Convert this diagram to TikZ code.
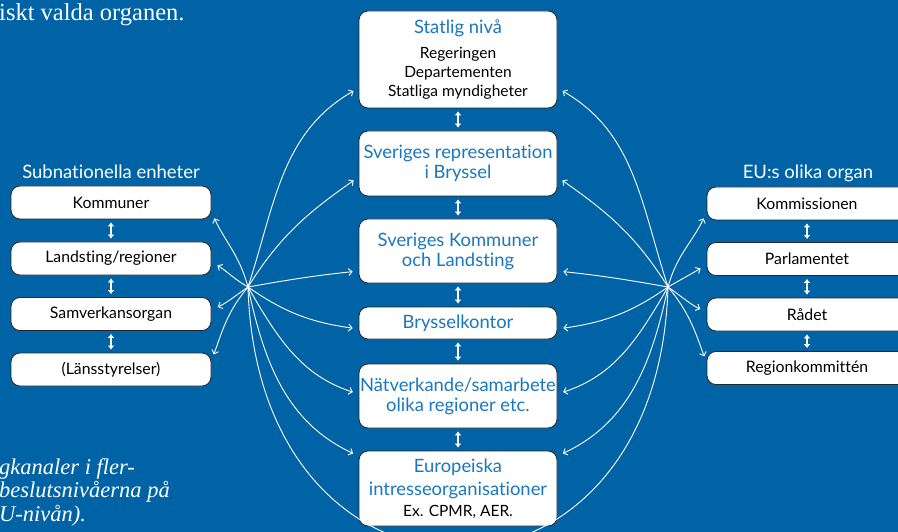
\documentclass[tikz,border=0pt]{standalone}
\usepackage{fontspec}
\setmainfont{Liberation Serif}
\newfontfamily\boxfont[Ligatures=NoCommon]{Lato}
\usetikzlibrary{arrows.meta}
\definecolor{bgblue}{HTML}{0063A6}
\definecolor{txtblue}{HTML}{1B78BE}
\newcommand\sub[1]{{\fontsize{15.5}{19}\selectfont\color{black}#1}}
\tikzset{
  box/.style={draw=black!85, fill=white, rounded corners=9pt, line width=.8pt,
    align=center, inner sep=0pt, text=txtblue, minimum width=198pt,
    font=\boxfont\fontsize{18.4}{20}\selectfont},
  sidebox/.style={box, text=black, minimum width=200pt, minimum height=33pt,
    font=\boxfont\fontsize{15.8}{18}\selectfont},
  label/.style={text=white, font=\boxfont\fontsize{18.5}{21}\selectfont},
  link/.style={white, line width=.9pt, line cap=round},
  con/.style={link, -{Straight Barb[length=3.5pt,width=7pt]}},
  dbl/.style={white, line width=1.6pt, {Latex[length=4pt,width=7pt]}-{Latex[length=4pt,width=7pt]},
    shorten <=3pt, shorten >=3pt},
}
\begin{document}
\begin{tikzpicture}[x=1pt, y=1pt]
	\clip (0,0) rectangle (898,-532);
	\fill[bgblue] (0,0) rectangle (898,-532);
	\path
	(248,-287) coordinate (L)
	(668,-287) coordinate (R)
	;
	% middle column
	\node[box, minimum height=97pt, font=\boxfont\fontsize{18.4}{19}\selectfont] (c1) at (458,-59.5) {Statlig nivå\\[6pt] \sub{Regeringen}\\ \sub{Departementen}\\ \sub{Statliga myndigheter}};
	\node[box, minimum height=65pt] (c2) at (458,-163.5) {Sveriges representation\\ i Bryssel};
	\node[box, minimum height=64pt] (c3) at (458,-251) {Sveriges Kommuner\\ och Landsting};
	\node[box, minimum height=32pt] (c4) at (458,-323) {Brysselkontor};
	\node[box, minimum height=64pt] (c5) at (458,-396) {Nätverkande/samarbete\\ olika regioner etc.};
	\node[box, minimum height=75pt] (c6) at (458,-488.5) {Europeiska\\[3pt] intresseorganisationer\\[1pt] \sub{Ex. CPMR, AER.}};
	% left and right columns
	\node[label] (lt) at (111,-172) {Subnationella enheter};
	\node[sidebox] (l1) at (111,-202.5) {Kommuner};
	\node[sidebox] (l2) at (111,-258.5) {Landsting/regioner};
	\node[sidebox] (l3) at (111,-314) {Samverkansorgan};
	\node[sidebox] (l4) at (111,-369.5) {(Länsstyrelser)};
	\node[label] (rt) at (808,-173) {EU:s olika organ};
	\node[sidebox] (r1) at (807,-203.5) {Kommissionen};
	\node[sidebox] (r2) at (807,-259) {Parlamentet};
	\node[sidebox] (r3) at (807,-314.5) {Rådet};
	\node[sidebox] (r4) at (807,-368) {Regionkommittén};
	% texts cut by the frame
	\node[anchor=base west, inner sep=0pt, text=white, font=\fontsize{24.5}{28}\selectfont] (top) at (-1,-21) {iskt valda organen.};
	\node[anchor=north west, inner sep=0pt, align=left, text=white, font=\itshape\fontsize{22.5}{23.5}\selectfont] (bot) at (-1,-458) {gkanaler i fler-\\ beslutsnivåerna på\\ U-nivån).};
	% double arrows
	\foreach \a/\b in {c1/c2, c2/c3, c3/c4, c4/c5, c5/c6, l1/l2, l2/l3, l3/l4, r1/r2, r2/r3, r3/r4}
	\draw[dbl] (\a) -- (\b);
	% curves to the middle column
	\foreach \n/\d/\o/\i in {c1/-28.5/72/210, c2/-13.5/58/215, c3/-20/10/186, c4/-6/-35/172, c5/2/-60/162, c6/32.5/-78/155}
	{
	\pgfmathsetmacro\oo{180-\o}
	\pgfmathsetmacro\ii{180-\i}
	\draw[con, shorten >=6pt] (L) to[out=\o, in=\i] ([yshift=\d]\n.west);
	\draw[con, shorten >=6pt] (R) to[out=\oo, in=\ii] ([yshift=\d]\n.east);
	}
	% curves to the side columns
	\foreach \n/\d/\o/\i in {l1/-9.5/105/-65, l2/-3.5/150/-30, l3/4/215/25, l4/8.5/230/70}
	\draw[con, shorten >=7pt] (L) to[out=\o, in=\i] ([yshift=\d]\n.east);
	\foreach \n/\d/\o/\i in {r1/-8.5/75/245, r2/-6/30/210, r3/2.5/-35/155, r4/5/-50/110}
	\draw[con, shorten >=7pt] (R) to[out=\o, in=\i] ([yshift=\d]\n.west);
	\draw[link] (L) .. controls (258,-635) and (658,-635) .. (R);
\end{tikzpicture}
\end{document}
